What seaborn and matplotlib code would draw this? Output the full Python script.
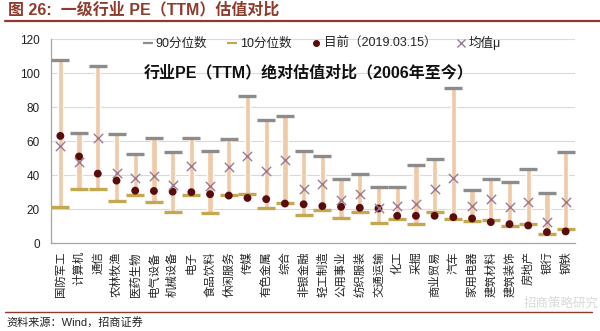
import numpy as np
import pandas as pd
import matplotlib
matplotlib.use("Agg")
import matplotlib.pyplot as plt
from matplotlib.lines import Line2D
import seaborn as sns

# 一级行业 PE(TTM) 分位数、当前值与均值(2006年至今)
industries = ["国防军工", "计算机", "通信", "农林牧渔", "医药生物", "电气设备", "机械设备",
              "电子", "食品饮料", "休闲服务", "传媒", "有色金属", "综合", "非银金融",
              "轻工制造", "公用事业", "纺织服装", "交通运输", "化工", "采掘", "商业贸易",
              "汽车", "家用电器", "建筑材料", "建筑装饰", "房地产", "银行", "钢铁"]
p90 = [107.7, 64.6, 104.4, 64.0, 52.3, 61.7, 53.3,
       61.7, 54.4, 60.9, 86.6, 72.6, 74.5, 54.4,
       51.1, 37.7, 40.8, 33.0, 33.0, 46.0, 49.4,
       91.3, 31.2, 37.9, 36.1, 43.7, 29.7, 53.5]
p10 = [21.1, 32.0, 31.8, 25.0, 28.1, 24.2, 18.3,
       28.3, 17.6, 28.5, 28.9, 20.7, 23.6, 16.4,
       19.7, 15.0, 18.1, 11.9, 14.0, 11.3, 18.3,
       14.4, 13.1, 13.3, 9.8, 11.3, 5.3, 8.4]
current = [63.0, 50.9, 40.8, 36.7, 30.8, 30.6, 30.2,
           29.9, 28.7, 27.9, 26.5, 25.8, 23.2, 22.8,
           21.7, 21.3, 20.7, 20.3, 16.0, 16.0, 16.0,
           15.2, 14.4, 12.3, 11.1, 10.3, 6.4, 6.8]
mean = [57.2, 47.4, 62.0, 41.0, 38.4, 39.2, 34.1,
        45.3, 33.8, 44.9, 51.3, 42.1, 49.0, 31.8,
        34.7, 25.2, 28.9, 20.3, 21.5, 22.8, 32.0,
        38.4, 21.9, 26.0, 20.9, 24.4, 12.1, 24.4]
yticks = [0, 20, 40, 60, 80, 100, 120]

RANGE = "#F0C9A6"
GRAY = "#8C8C8C"
OLIVE = "#C4A850"
DOT = "#5A0C0C"
MEAN = "#9A7A92"
RED = "#8E3A2C"

sns.set_theme(style="white")
plt.rcParams["font.family"] = ["Liberation Sans", "Noto Sans CJK SC", "DejaVu Sans"]
plt.rcParams["axes.unicode_minus"] = False

df = pd.DataFrame({"industry": industries, "p90": p90, "p10": p10,
                   "current": current, "mean": mean})
df["pos"] = np.arange(len(df))

fig = plt.figure(figsize=(6, 3.31), dpi=100)
ax = fig.add_axes([51 / 600, 88 / 331, 524 / 600, 204 / 331])

# 10%-90% 区间
ax.bar(df["pos"], df["p90"] - df["p10"], bottom=df["p10"], width=0.28,
       color=RANGE, zorder=2)
ax.scatter(df["pos"], df["p90"], marker="_", s=175, linewidths=2.4, color=GRAY, zorder=3)
ax.scatter(df["pos"], df["p10"], marker="_", s=175, linewidths=2.4, color=OLIVE, zorder=3)
sns.scatterplot(data=df, x="pos", y="current", ax=ax, color=DOT, s=32,
                edgecolor="none", zorder=4, legend=False)
sns.scatterplot(data=df, x="pos", y="mean", ax=ax, marker="x", color=MEAN, s=45,
                linewidth=1.0, zorder=5, legend=False)

ax.set_xlim(-0.5, len(df) - 0.5)
ax.set_ylim(0, 120)
ax.set_yticks(yticks)
ax.set_yticklabels([str(v) for v in yticks], fontsize=8.5, color="#222222")
ax.set_xticks(df["pos"])
ax.set_xticklabels(industries, rotation=90, fontsize=8.2, color="#222222",
                   ha="center", va="top")
ax.set_xticks(np.arange(-0.5, len(df), 1.0), minor=True)
ax.tick_params(axis="x", which="major", length=0, pad=6)
ax.tick_params(axis="x", which="minor", length=3, color="#A0A0A0", width=0.8)
ax.tick_params(axis="y", length=3, color="#A0A0A0", width=0.8, pad=5)
ax.set_xlabel("")
ax.set_ylabel("")
ax.grid(axis="y", color="#DADADA", linewidth=0.8, zorder=0)
ax.set_axisbelow(True)
for side in ["top", "right"]:
    ax.spines[side].set_visible(False)
for side in ["left", "bottom"]:
    ax.spines[side].set_color("#A6A6A6")
    ax.spines[side].set_linewidth(0.9)

ax.text(0.515, 1 - 73 / 331, "行业PE（TTM）绝对估值对比（2006年至今）", transform=fig.transFigure,
        ha="center", va="center", fontsize=11.5, fontweight="bold", color="#111111")

handles = [
    Line2D([], [], color=GRAY, marker="_", linestyle="None", markersize=7, mew=1.6),
    Line2D([], [], color=OLIVE, marker="_", linestyle="None", markersize=7, mew=1.6),
    Line2D([], [], color=DOT, marker="o", linestyle="None", markersize=4),
    Line2D([], [], color=MEAN, marker="x", linestyle="None", markersize=6, mew=1.0),
]
labels = ["90分位数", "10分位数", "目前（2019.03.15）", "均值μ"]
fig.legend(handles, labels, loc="center", bbox_to_anchor=(322 / 600, 1 - 43 / 331),
           ncol=4, frameon=False, fontsize=9, handlelength=0.7, handletextpad=0.3,
           columnspacing=1.6, labelcolor="#222222")

# 标题与来源
fig.text(8 / 600, 1 - 10 / 331, "图 26:  一级行业 PE（TTM）估值对比", ha="left",
         va="center", fontsize=11.5, fontweight="bold", color=RED)
fig.add_artist(Line2D([5 / 600, 1.0], [1 - 21 / 331, 1 - 21 / 331],
                      transform=fig.transFigure, color=RED, linewidth=1.6))
fig.add_artist(Line2D([5 / 600, 592 / 600], [1 - 312 / 331, 1 - 312 / 331],
                      transform=fig.transFigure, color=RED, linewidth=1.0))
fig.text(6 / 600, 1 - 322 / 331, "资料来源：Wind，招商证券", ha="left", va="center",
         fontsize=8, color="#222222")
fig.text(0.935, 1 - 304 / 331, "招商策略研究", ha="center", va="center",
         fontsize=9, color="#D0D0D0", alpha=0.8)

fig.savefig("out.png", dpi=100)
